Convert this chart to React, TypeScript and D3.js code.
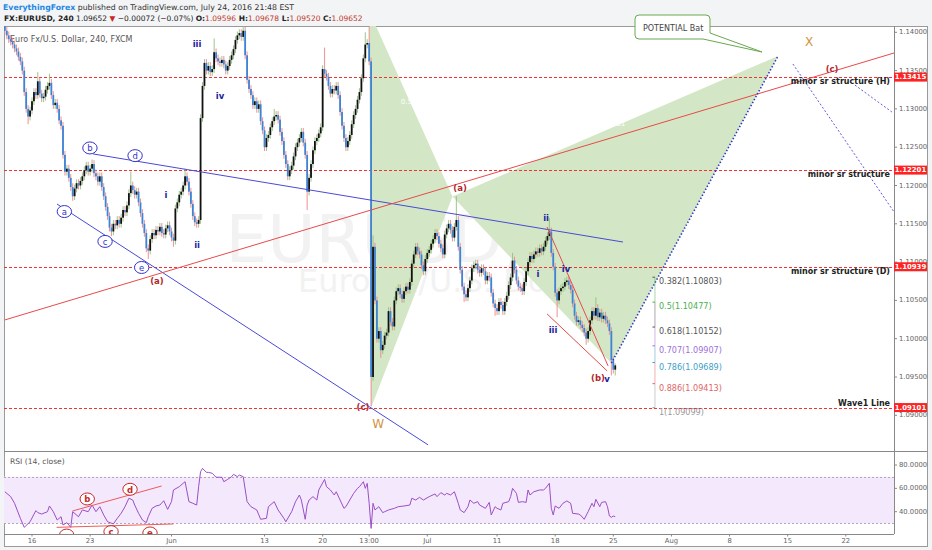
import React from 'react';
import * as d3 from 'd3';

// 4h closes
const closesMay12 = [1.1402, 1.1396, 1.1391, 1.1388, 1.1384, 1.1379, 1.1375, 1.1368, 1.1362, 1.1350, 1.1322, 1.1300, 1.1290, 1.1298];
const closesMay16 = [1.1310, 1.1322, 1.1318, 1.1336, 1.1320, 1.1314, 1.1316, 1.1325, 1.1330, 1.1334, 1.1318, 1.1305, 1.1308, 1.1300, 1.1285, 1.1278, 1.1240, 1.1218, 1.1222, 1.1210, 1.1198, 1.1186, 1.1196, 1.1203, 1.1200, 1.1206, 1.1212, 1.1220, 1.1226, 1.1218];
const closesMay23 = [1.1222, 1.1228, 1.1216, 1.1212, 1.1205, 1.1212, 1.1198, 1.1186, 1.1172, 1.1160, 1.1145, 1.1140, 1.1150, 1.1148, 1.1155, 1.1150, 1.1158, 1.1168, 1.1165, 1.1174, 1.1190, 1.1200, 1.1194, 1.1188, 1.1192, 1.1178, 1.1164, 1.1150, 1.1138, 1.1118];
const closesMay30 = [1.1115, 1.1130, 1.1138, 1.1135, 1.1142, 1.1140, 1.1146, 1.1138, 1.1136, 1.1144, 1.1148, 1.1140, 1.1132, 1.1128, 1.1170, 1.1178, 1.1188, 1.1192, 1.1200, 1.1212, 1.1205, 1.1192, 1.1176, 1.1160, 1.1152, 1.1150, 1.1155, 1.1288, 1.1330, 1.1360];
const closesJun6 = [1.1350, 1.1356, 1.1348, 1.1352, 1.1374, 1.1366, 1.1362, 1.1360, 1.1364, 1.1358, 1.1350, 1.1356, 1.1364, 1.1370, 1.1378, 1.1390, 1.1396, 1.1399, 1.1394, 1.1402, 1.1370, 1.1338, 1.1326, 1.1318, 1.1305, 1.1310, 1.1300, 1.1306, 1.1284, 1.1272];
const closesJun13 = [1.1250, 1.1262, 1.1266, 1.1276, 1.1284, 1.1290, 1.1292, 1.1286, 1.1270, 1.1258, 1.1240, 1.1228, 1.1212, 1.1220, 1.1226, 1.1238, 1.1250, 1.1256, 1.1262, 1.1270, 1.1256, 1.1240, 1.1192, 1.1210, 1.1228, 1.1246, 1.1258, 1.1262, 1.1268, 1.1276];
const closesJun20 = [1.1352, 1.1346, 1.1342, 1.1330, 1.1320, 1.1326, 1.1324, 1.1330, 1.1318, 1.1296, 1.1278, 1.1262, 1.1250, 1.1258, 1.1266, 1.1280, 1.1292, 1.1300, 1.1312, 1.1322, 1.1340, 1.1366, 1.1384, 1.1386, 1.1362, 1.0950, 1.1120, 1.1050, 1.1000, 1.1010];
const closesJun27 = [1.0985, 1.0992, 1.1004, 1.1008, 1.1036, 1.1022, 1.1016, 1.1050, 1.1062, 1.1066, 1.1058, 1.1052, 1.1062, 1.1068, 1.1064, 1.1074, 1.1098, 1.1110, 1.1120, 1.1114, 1.1110, 1.1096, 1.1088, 1.1104, 1.1112, 1.1116, 1.1124, 1.1130, 1.1138, 1.1134];
const closesJul4 = [1.1124, 1.1118, 1.1110, 1.1136, 1.1144, 1.1150, 1.1142, 1.1132, 1.1146, 1.1155, 1.1120, 1.1090, 1.1068, 1.1058, 1.1054, 1.1066, 1.1076, 1.1092, 1.1096, 1.1098, 1.1090, 1.1086, 1.1092, 1.1088, 1.1076, 1.1082, 1.1080, 1.1060, 1.1046, 1.1040];
const closesJul11 = [1.1036, 1.1048, 1.1044, 1.1036, 1.1048, 1.1056, 1.1070, 1.1080, 1.1102, 1.1090, 1.1076, 1.1068, 1.1066, 1.1062, 1.1074, 1.1088, 1.1100, 1.1108, 1.1104, 1.1110, 1.1114, 1.1112, 1.1118, 1.1114, 1.1120, 1.1128, 1.1134, 1.1140, 1.1112, 1.1094];
const closesJul18 = [1.1060, 1.1050, 1.1062, 1.1066, 1.1068, 1.1074, 1.1076, 1.1070, 1.1064, 1.1046, 1.1030, 1.1022, 1.1024, 1.1018, 1.1014, 1.1008, 1.1000, 1.1010, 1.1024, 1.1036, 1.1030, 1.1040, 1.1028, 1.1034, 1.1026, 1.1030, 1.1024, 1.1020, 1.1010, 1.0972];
const closesJul25 = [1.09596, 1.09652];
const firstOpen = 1.1408;

// long wicks [bar, price]
const wickHighs: [number, number][] = [[17, 1.1348], [23, 1.1346], [45, 1.1234], [65, 1.1218], [93, 1.1222], [108, 1.1392], [123, 1.1412], [139, 1.1300], [165, 1.1380], [186, 1.1400], [188, 1.1428], [190, 1.1135], [233, 1.1186], [262, 1.1112], [281, 1.1158], [305, 1.1054], [315, 1.09678]];
const wickLows: [number, number][] = [[12, 1.1280], [35, 1.1180], [55, 1.1134], [74, 1.1104], [87, 1.1120], [156, 1.1168], [189, 1.0912], [194, 1.0975], [237, 1.1048], [253, 1.1030], [285, 1.1028], [300, 1.0992], [313, 1.0952], [315, 1.0952]];

const rsiPoints: [number, number][] = [
  [0, 57.1], [3, 52.9], [5, 47.2], [8, 34.3], [10, 26.6], [13, 31.4], [16, 40.9], [17, 39.2], [19, 38], [22, 40], [23, 44.9], [25, 40], [27, 32.9], [29, 35.7], [30, 28.6], [32, 30.6], [34, 26.6], [35, 40], [38, 35.7], [40, 41.5], [43, 40], [45, 45.7], [47, 40], [49, 44.3], [51, 37.2], [53, 31.4], [56, 29.5], [58, 34.3], [60, 38.6], [62, 44.3], [64, 51.5], [66, 50], [67, 45.7], [69, 38.6], [71, 32.9], [73, 30.6], [74, 35.7], [76, 42.9], [78, 44.9], [80, 45.7], [82, 49.4], [84, 42], [86, 48.6], [87, 58.6], [90, 61.4], [92, 64.3], [93, 65.7], [95, 48.6], [97, 47.2], [99, 45.7], [100, 61.4], [101, 74.3], [102, 77.1], [104, 73.7], [105, 73.7], [107, 72.9], [109, 69.5], [112, 69.5], [113, 65.7], [115, 67.7], [117, 70], [118, 72], [120, 70], [121, 71.4], [123, 70],
  [125, 48.6], [127, 44.3], [130, 41.5], [132, 33.5], [135, 34.3], [136, 44.3], [139, 48.6], [141, 41.5], [144, 34.3], [145, 31.4], [148, 40], [150, 48.6], [152, 54.3], [153, 50], [155, 33.5], [156, 45.7], [157, 50], [159, 52.9], [161, 50], [162, 58.6], [165, 67.7], [166, 61.4], [168, 58.6], [170, 54.3], [171, 57.1], [173, 50], [175, 42.9], [176, 44.3], [178, 50], [180, 55.7], [182, 60], [183, 61.4], [185, 65.7], [186, 60], [187, 64.3], [188, 47.2], [189, 25.7], [190, 47.2], [191, 41.5], [193, 44.3], [195, 39.2], [196, 40], [198, 41.5], [201, 42.9], [203, 44.3], [206, 44.9], [209, 45.7], [210, 51.5], [212, 50], [214, 52.3], [216, 50], [219, 52.9], [222, 55.2], [223, 52.9], [225, 56.3], [227, 54.3], [228, 55.7], [230, 54.3], [232, 57.1], [234, 47.2], [235, 41.5], [237, 39.2], [239, 44.3], [240, 50],
  [242, 47.2], [244, 48.6], [245, 45.7], [248, 42.9], [250, 48], [251, 37.2], [253, 44.3], [254, 42.9], [256, 41.5], [257, 47.2], [260, 48.6], [261, 52.9], [262, 60], [264, 55.7], [265, 48], [267, 48.6], [269, 48], [270, 58.6], [271, 54.3], [273, 57.1], [276, 58.6], [278, 58.6], [279, 60], [281, 64.3], [282, 42.9], [283, 37.2], [284, 44.9], [286, 42.9], [288, 47.2], [290, 49.2], [292, 47.2], [293, 38.6], [296, 38], [297, 37.2], [299, 33.5], [301, 40], [303, 47.2], [304, 44.3], [305, 50.6], [307, 44.3], [308, 48], [310, 48.6], [311, 44.3], [312, 36.3], [313, 35.2], [314, 36.3], [315, 35.7],
];

const priceTicks = [1.09, 1.095, 1.1, 1.105, 1.11, 1.115, 1.12, 1.125, 1.13, 1.135, 1.14];
const rsiTicks = [40, 60, 80];
const dateTickBars = [14, 44, 86, 134, 164, 188, 218, 254, 284, 314, 344, 374, 404, 434];
const dateTickLabels = ['16', '23', 'Jun', '13', '20', '13:00', 'Jul', '11', '18', '25', 'Aug', '8', '15', '22'];

const levelPrices = [1.13415, 1.12201, 1.10939, 1.09101];
const levelNotes = ['minor sr structure (H)', 'minor sr structure', 'minor sr structure (D)', 'Wave1 Line'];

const fibRatios = ['0.382', '0.5', '0.618', '0.707', '0.786', '0.886', '1'];
const fibPrices = [1.10803, 1.10477, 1.10152, 1.09907, 1.09689, 1.09413, 1.09099];

// X, A, B, C, D of the bat
const batPoints: [number, number][] = [[188, 1.1428], [189, 1.0910], [231, 1.11856], [313, 1.0968], [399, 1.1369]];
const batRatios = ['0.529', '0.801'];

type Seg = [[number, number], [number, number]];
const blueLines: Seg[] = [[[45.5, 1.12412], [319.0, 1.11262]], [[26.9, 1.11758], [218.4, 1.08614]]];
const redLines: Seg[] = [[[0, 1.10245], [458.9, 1.1373]], [[279.8, 1.11459], [311.3, 1.09645]], [[279.8, 1.10324], [310.8, 1.0958]]];
const dottedLines: Seg[] = [[[406.7, 1.13586], [458.9, 1.11654]], [[438.7, 1.13311], [457.8, 1.12959]]];
const rsiRedLines: Seg[] = [[[34.9, 40.6], [80.9, 62.0]], [[26.7, 26.6], [86.9, 29.5]]];

const romanLabels: [string, number, number][] = [['iii', 99.2, 1.1385], ['iv', 111, 1.1317], ['i', 83.1, 1.1188], ['ii', 99.2, 1.1122], ['ii', 279.3, 1.1158], ['i', 275.1, 1.1085], ['iv', 289.6, 1.1091], ['iii', 282.9, 1.1011], ['v', 310.7, 1.0947]];
const waveLabels: [string, number, number][] = [['(a)', 78.5, 1.1075], ['(a)', 234.9, 1.1197], ['(c)', 184.8, 1.0911], ['(b)', 306.1, 1.0949], ['(c)', 426.9, 1.1352]];
const circledLabels: [string, number, number][] = [['a', 30.7, 1.1166], ['b', 43.9, 1.1249], ['c', 51.7, 1.1127], ['d', 67.2, 1.1239], ['e', 70.6, 1.1093]];
const rsiCircled: [string, number, number][] = [['a', 31.9, 20.0], ['b', 42.5, 50.9], ['c', 54.8, 22.9], ['d', 64.6, 59.2], ['e', 74.9, 21.8]];
const degreeLabels: [string, number, number][] = [['W', 192.6, 1.0888], ['X', 415, 1.1387]];

const FONT = '"DejaVu Sans", Verdana, sans-serif';
const plotL = 4;
const plotR = 894;
const mainT = 26;
const mainB = 451;
const rsiB = 534;
const frameR = 927;
const frameB = 546;

const x = d3.scaleLinear().domain([0, 434]).range([4.87, 4.87 + 434 * 1.9377]);
const y = d3.scaleLinear().domain([1.09, 1.14]).range([415.3, 32.3]);
const yR = d3.scaleLinear().domain([40, 80]).range([511.7, 465]);
const crisp = (v: number) => Math.round(v) + 0.5;

const fibColors: Record<string, string> = {
  '0.382': '#555', '0.5': '#4caf50', '0.618': '#555', '0.707': '#a070d8',
  '0.786': '#3d9fc8', '0.886': '#e06666', '1': '#999',
};

function buildCandles() {
  const closes = [...closesMay12, ...closesMay16, ...closesMay23, ...closesMay30, ...closesJun6, ...closesJun13,
    ...closesJun20, ...closesJun27, ...closesJul4, ...closesJul11, ...closesJul18, ...closesJul25];
  const hiMap = new Map(wickHighs);
  const loMap = new Map(wickLows);
  return closes.map((c, i) => {
    const o = i === 0 ? firstOpen : closes[i - 1];
    const h = hiMap.get(i) ?? Math.max(o, c) + 0.0005;
    const l = loMap.get(i) ?? Math.min(o, c) - 0.0005;
    return { i, o, h, l, c };
  });
}

function Circled({ t, cx, cy, color, bold }: { t: string; cx: number; cy: number; color: string; bold?: boolean }) {
  return (
    <g>
      <ellipse cx={cx} cy={cy} rx={7.2} ry={6} fill="#fff" stroke={color} strokeWidth={1} />
      <text x={cx} y={cy + 0.5} fill={color} fontSize={8.5} fontWeight={bold ? 'bold' : 'normal'} textAnchor="middle" dominantBaseline="central">{t}</text>
    </g>
  );
}

export default function App() {
  const candles = buildCandles();
  const rsiPath = d3.line<[number, number]>().x(d => x(d[0])).y(d => yR(d[1]))(rsiPoints) ?? '';
  const seg = (s: Seg) => ({ x1: x(s[0][0]), y1: y(s[0][1]), x2: x(s[1][0]), y2: y(s[1][1]) });
  const rseg = (s: Seg) => ({ x1: x(s[0][0]), y1: yR(s[0][1]), x2: x(s[1][0]), y2: yR(s[1][1]) });
  const pt = (p: [number, number]) => `${x(p[0])},${y(p[1])}`;
  const [X, A, B, C, D] = batPoints;
  const fibX = x(335.5);

  return (
    <div style={{ position: 'absolute', left: 0, top: 0 }}>
      <svg width={932} height={550} style={{ display: 'block' }} fontFamily={FONT}>
        <defs>
          <clipPath id="mainClip"><rect x={plotL} y={mainT} width={plotR - plotL} height={mainB - mainT} /></clipPath>
          <clipPath id="rsiClip"><rect x={plotL} y={mainB} width={plotR - plotL} height={rsiB - mainB} /></clipPath>
        </defs>
        <rect width={932} height={550} fill="#f3f4f6" />

        {/* header */}
        <text x={3} y={9.5} fontSize={7.8} fill="#333">
          <tspan fill="#1e88e5" fontWeight="bold">EverythingForex</tspan>
          <tspan> published on TradingView.com, July 24, 2016 21:48 EST</tspan>
        </text>
        <text x={4} y={20.5} fontSize={7.5} fill="#222">
          <tspan fontWeight="bold">FX:EURUSD, 240</tspan>
          <tspan> 1.09652 </tspan>
          <tspan fill="#c62828">▼</tspan>
          <tspan> −0.00072 (−0.07%) </tspan>
          <tspan fontWeight="bold">O:</tspan><tspan fill="#c0392b">1.09596</tspan>
          <tspan fontWeight="bold"> H:</tspan><tspan fill="#c0392b">1.09678</tspan>
          <tspan fontWeight="bold"> L:</tspan><tspan fill="#c0392b">1.09520</tspan>
          <tspan fontWeight="bold"> C:</tspan><tspan fill="#c0392b">1.09652</tspan>
        </text>

        {/* frame */}
        <rect x={plotL + 0.5} y={mainT + 0.5} width={frameR - plotL} height={frameB - mainT} fill="#fff" stroke="#9a9a9a" strokeWidth={1} />

        {/* main pane */}
        <g clipPath="url(#mainClip)">
          <text x={448} y={262} fontSize={66} fill="#f2f2f2" textAnchor="middle">EURUSD, 240</text>
          <text x={448} y={292} fontSize={32} fill="#f2f2f2" textAnchor="middle">Euro Fx/U.S. Dollar</text>
          <text x={10} y={42} fontSize={8} fill="#555">Euro Fx/U.S. Dollar, 240, FXCM</text>

          <polygon points={[X, A, B].map(pt).join(' ')} fill="#d3e7c6" />
          <polygon points={[B, C, D].map(pt).join(' ')} fill="#d3e7c6" />
          <text x={x((X[0] + B[0]) / 2)} y={y((X[1] + B[1]) / 2)} fontSize={7} fill="#fff" textAnchor="middle">{batRatios[0]}</text>
          <text x={x((B[0] + D[0]) / 2)} y={y((B[1] + D[1]) / 2)} fontSize={7} fill="#fff" textAnchor="middle">{batRatios[1]}</text>

          {levelPrices.map(p => (
            <line key={p} x1={plotL} x2={plotR} y1={crisp(y(p))} y2={crisp(y(p))} stroke="#ee3333" strokeWidth={1} strokeDasharray="3,2" />
          ))}

          {candles.map(k => {
            const up = k.c >= k.o;
            const top = y(Math.max(k.o, k.c));
            const bh = Math.max(0.8, Math.abs(y(k.o) - y(k.c)));
            return (
              <g key={k.i}>
                <line x1={x(k.i)} x2={x(k.i)} y1={y(k.h)} y2={y(k.l)} stroke={up ? '#93bd80' : '#ee8585'} strokeWidth={0.9} />
                <rect x={x(k.i) - 0.9} y={top} width={1.8} height={bh} fill={up ? '#111' : '#3d84d6'} />
              </g>
            );
          })}

          {blueLines.map((s, i) => <line key={i} {...seg(s)} stroke="#4a4ad6" strokeWidth={1} />)}
          {redLines.map((s, i) => <line key={i} {...seg(s)} stroke="#e84a4a" strokeWidth={1} />)}
          <line x1={x(C[0])} y1={y(C[1])} x2={x(D[0])} y2={y(D[1])} stroke="#2a35cc" strokeWidth={1.6} strokeDasharray="1.4,2" />
          {dottedLines.map((s, i) => <line key={i} {...seg(s)} stroke="#4a4ad6" strokeWidth={0.9} strokeDasharray="2,2" />)}

          {/* fib retracement */}
          {fibPrices.map((p, i) => i < fibPrices.length - 1 && (
            <line key={p} x1={fibX} x2={fibX} y1={y(p)} y2={y(fibPrices[i + 1])} stroke={fibColors[fibRatios[i + 1]]} strokeOpacity={0.5} strokeWidth={1} />
          ))}
          {fibPrices.map((p, i) => (
            <g key={p}>
              <line x1={fibX - 2.5} x2={fibX} y1={y(p)} y2={y(p)} stroke={fibColors[fibRatios[i]]} strokeWidth={1} />
              <text x={fibX + 4} y={y(p) + 4.3} fontSize={8.1} fill={fibColors[fibRatios[i]]} dominantBaseline="central">{`${fibRatios[i]}(${p.toFixed(5)})`}</text>
            </g>
          ))}

          {levelPrices.map((p, i) => (
            <text key={p} x={890} y={y(p) + (i === 3 ? -4.3 : 4.8)} fontSize={8} fontWeight="bold" fill="#222" textAnchor="end" dominantBaseline="central">{levelNotes[i]}</text>
          ))}

          {circledLabels.map(([t, b, p]) => <Circled key={t} t={t} cx={x(b)} cy={y(p)} color="#3232cc" />)}
          {romanLabels.map(([t, b, p], i) => (
            <text key={i} x={x(b)} y={y(p)} fontSize={8.5} fontWeight="bold" fill="#22229a" textAnchor="middle" dominantBaseline="central">{t}</text>
          ))}
          {waveLabels.map(([t, b, p], i) => (
            <text key={i} x={x(b)} y={y(p)} fontSize={8.5} fontWeight="bold" fill="#b3262d" textAnchor="middle" dominantBaseline="central">{t}</text>
          ))}
          {degreeLabels.map(([t, b, p]) => (
            <text key={t} x={x(b)} y={y(p)} fontSize={12} fill="#d0943e" textAnchor="middle" dominantBaseline="central">{t}</text>
          ))}
        </g>

        {/* callout drawn over the header edge */}
        <path d="M639,15 H706 Q710,15 710,19 V33 L762,52 L703,39 H639 Q635,39 635,35 V19 Q635,15 639,15 Z" fill="#fff" stroke="#6aa84f" strokeWidth={1} />
        <text x={643} y={30.5} fontSize={8} fill="#444">POTENTIAL Bat</text>

        {/* price axis */}
        <line x1={plotR + 0.5} x2={plotR + 0.5} y1={mainT} y2={rsiB} stroke="#888" />
        {priceTicks.map(p => (
          <g key={p}>
            <line x1={plotR} x2={plotR + 3} y1={y(p)} y2={y(p)} stroke="#888" />
            <text x={899} y={y(p)} fontSize={6.8} fill="#666" dominantBaseline="central">{p.toFixed(5)}</text>
          </g>
        ))}
        {levelPrices.map(p => (
          <g key={p}>
            <rect x={plotR} y={y(p) - 4.5} width={33} height={9} fill="#f22" />
            <text x={plotR + 16.5} y={y(p) + 0.3} fontSize={6.9} fontWeight="bold" fill="#fff" textAnchor="middle" dominantBaseline="central">{p.toFixed(5)}</text>
          </g>
        ))}

        {/* RSI pane */}
        <line x1={plotL} x2={frameR} y1={mainB + 0.5} y2={mainB + 0.5} stroke="#888" />
        <g clipPath="url(#rsiClip)">
          <rect x={plotL} y={yR(70)} width={plotR - plotL} height={yR(30) - yR(70)} fill="#f4e8fc" />
          <line x1={plotL} x2={plotR} y1={crisp(yR(70))} y2={crisp(yR(70))} stroke="#b0a8b8" strokeDasharray="2,2" />
          <line x1={plotL} x2={plotR} y1={crisp(yR(30))} y2={crisp(yR(30))} stroke="#b0a8b8" strokeDasharray="2,2" />
          <path d={rsiPath} fill="none" stroke="#9b4fc6" strokeWidth={1} />
          {rsiRedLines.map((s, i) => <line key={i} {...rseg(s)} stroke="#ee5a5a" strokeWidth={1} />)}
          {rsiCircled.map(([t, b, v]) => <Circled key={t} t={t} cx={x(b)} cy={yR(v)} color="#c62828" bold />)}
          <text x={10} y={464} fontSize={7.6} fill="#555">RSI (14, close)</text>
        </g>
        {rsiTicks.map(v => (
          <g key={v}>
            <line x1={plotR} x2={plotR + 3} y1={yR(v)} y2={yR(v)} stroke="#888" />
            <text x={899} y={yR(v)} fontSize={6.8} fill="#666" dominantBaseline="central">{v.toFixed(4)}</text>
          </g>
        ))}

        {/* time axis */}
        <line x1={plotL} x2={plotR} y1={rsiB + 0.5} y2={rsiB + 0.5} stroke="#888" />
        {dateTickBars.map((b, i) => (
          <g key={b}>
            <line x1={x(b)} x2={x(b)} y1={rsiB} y2={rsiB + 2.5} stroke="#888" />
            <text x={x(b)} y={543} fontSize={6.8} fill="#666" textAnchor="middle">{dateTickLabels[i]}</text>
          </g>
        ))}
      </svg>
    </div>
  );
}
